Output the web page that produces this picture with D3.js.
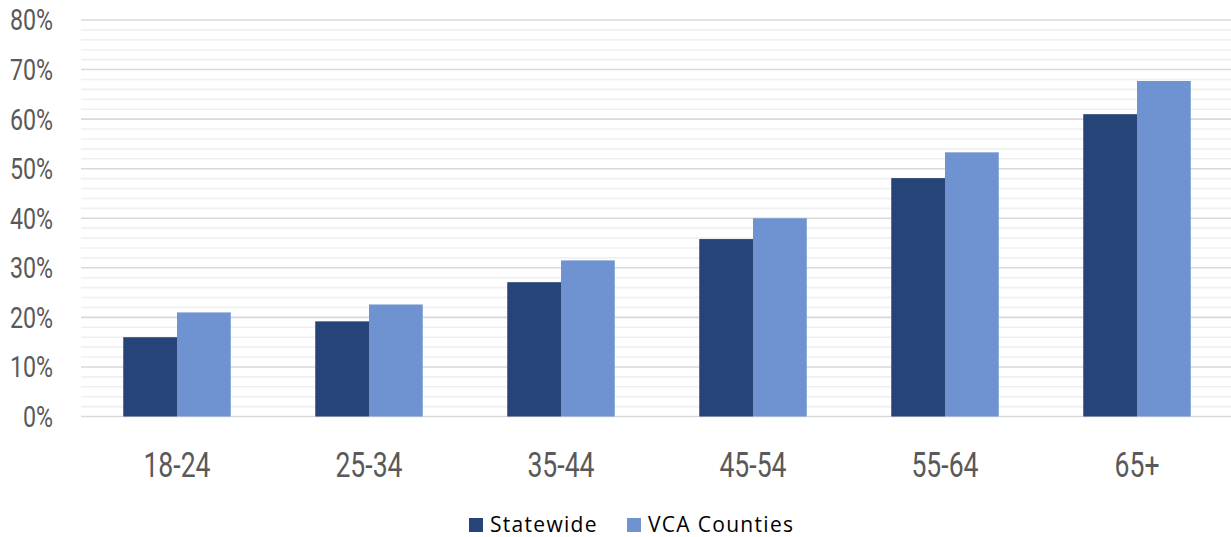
<!DOCTYPE html>
<html>
<head>
<meta charset="utf-8">
<script src="https://cdn.jsdelivr.net/npm/d3@7"></script>
<style>
  html, body { margin: 0; padding: 0; background: #fff; }
  svg { display: block; }
</style>
</head>
<body>
<svg id="chart" width="1231" height="537"></svg>
<script>
// Turnout share by age group
const categories = ["18-24", "25-34", "35-44", "45-54", "55-64", "65+"];
const seriesNames = ["Statewide", "VCA Counties"];
const statewide = [16.0, 19.2, 27.1, 35.8, 48.1, 61.0];
const vcaCounties = [21.0, 22.6, 31.5, 40.0, 53.3, 67.7];
const yTicks = [0, 10, 20, 30, 40, 50, 60, 70, 80];
const colors = ["#264478", "#6F93D0"];

const svg = d3.select("#chart");
const W = 1231, H = 537;
const plot = { left: 81, right: 1233, top: 20, bottom: 416.5 };

const x = d3.scaleBand().domain(categories).range([plot.left, plot.right]).padding(0);
const y = d3.scaleLinear().domain([0, 80]).range([plot.bottom, plot.top]);
const barW = x.bandwidth() * 0.28;

// Minor gridlines every 2%
const minor = d3.range(0, 81, 2).filter(v => v % 10 !== 0);
svg.append("g").selectAll("line").data(minor).join("line")
  .attr("x1", plot.left).attr("x2", W)
  .attr("y1", d => y(d)).attr("y2", d => y(d))
  .attr("stroke", "#f0f0f0").attr("stroke-width", 1.6);

// Major gridlines every 10%
svg.append("g").selectAll("line").data(yTicks).join("line")
  .attr("x1", plot.left).attr("x2", W)
  .attr("y1", d => y(d)).attr("y2", d => y(d))
  .attr("stroke", "#d9d9d9").attr("stroke-width", 1.6);

// Y axis labels (condensed)
const condensed = 0.8;
svg.append("g").selectAll("text").data(yTicks).join("text")
  .attr("transform", d => `translate(53,${y(d)}) scale(${condensed},1)`)
  .attr("text-anchor", "end")
  .attr("dy", "0.36em")
  .attr("font-family", "Roboto, sans-serif")
  .attr("font-size", 29)
  .attr("fill", "#595959")
  .text(d => d + "%");

// Bars
const series = [statewide, vcaCounties];
series.forEach((vals, si) => {
  svg.append("g").selectAll("rect").data(categories).join("rect")
    .attr("x", (c) => x(c) + x.bandwidth() / 2 + (si - 1) * barW)
    .attr("width", barW)
    .attr("y", (c, i) => y(vals[i]))
    .attr("height", (c, i) => y(0) - y(vals[i]))
    .attr("fill", colors[si]);
});

// X axis labels
svg.append("g").selectAll("text").data(categories).join("text")
  .attr("transform", d => `translate(${x(d) + x.bandwidth() / 2},477) scale(${condensed * 0.95},1)`)
  .attr("text-anchor", "middle")
  .attr("font-family", "Roboto, sans-serif")
  .attr("font-size", 35)
  .attr("fill", "#595959")
  .text(d => d);

// Legend
const legendItems = [
  { name: seriesNames[0], color: colors[0], x: 469 },
  { name: seriesNames[1], color: colors[1], x: 627 }
];
const lg = svg.append("g");
legendItems.forEach(it => {
  lg.append("rect").attr("x", it.x).attr("y", 518).attr("width", 14).attr("height", 14).attr("fill", it.color);
  lg.append("text").attr("x", it.x + 21).attr("y", 532)
    .attr("font-family", "'Open Sans', sans-serif")
    .attr("font-size", 21)
    .attr("letter-spacing", "1.3px")
    .attr("fill", "#000")
    .text(it.name);
});
</script>
</body>
</html>
